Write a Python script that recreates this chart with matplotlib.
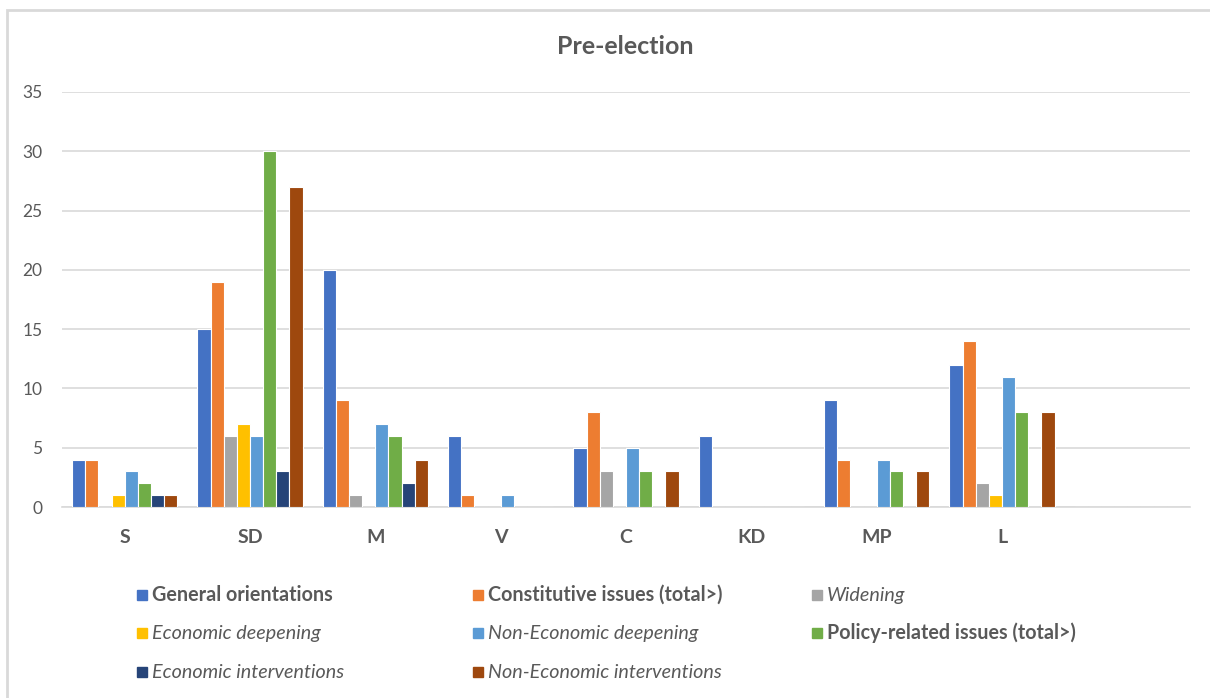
import matplotlib
matplotlib.use("Agg")
import matplotlib.pyplot as plt
from matplotlib.patches import Rectangle
import numpy as np

plt.rcParams['font.family'] = ['Lato', 'DejaVu Sans']

parties = ["S", "SD", "M", "V", "C", "KD", "MP", "L", ""]

series_names = [
    "General orientations",
    "Constitutive issues (total>)",
    "Widening",
    "Economic deepening",
    "Non-Economic deepening",
    "Policy-related issues (total>)",
    "Economic interventions",
    "Non-Economic interventions",
]
series_colors = ["#4472C4", "#ED7D31", "#A5A5A5", "#FFC000",
                 "#5B9BD5", "#70AD47", "#264478", "#9E480E"]
series_styles = ["bold", "bold", "italic", "italic",
                 "italic", "bold", "italic", "italic"]

general_orientations = [4, 15, 20, 6, 5, 6, 9, 12, 0]
constitutive_issues = [4, 19, 9, 1, 8, 0, 4, 14, 0]
widening = [0, 6, 1, 0, 3, 0, 0, 2, 0]
economic_deepening = [1, 7, 0, 0, 0, 0, 0, 1, 0]
non_economic_deepening = [3, 6, 7, 1, 5, 0, 4, 11, 0]
policy_related_issues = [2, 30, 6, 0, 3, 0, 3, 8, 0]
economic_interventions = [1, 3, 2, 0, 0, 0, 0, 0, 0]
non_economic_interventions = [1, 27, 4, 0, 3, 0, 3, 8, 0]

values = [general_orientations, constitutive_issues, widening,
          economic_deepening, non_economic_deepening, policy_related_issues,
          economic_interventions, non_economic_interventions]

W, H = 1210, 698
fig = plt.figure(figsize=(W / 100, H / 100), dpi=100)
ax = fig.add_axes([62 / W, (H - 507) / H, (1190 - 62) / W, (507 - 92) / H])

x = np.arange(len(parties))
n = len(values)
width = 0.105
for i, (vals, col) in enumerate(zip(values, series_colors)):
    offs = (i - (n - 1) / 2) * width
    ax.bar(x + offs, vals, width, color=col, edgecolor="white", linewidth=0.8,
           zorder=3)

ax.set_xlim(-0.5, len(parties) - 0.5)
ax.set_ylim(0, 35)
ax.set_yticks(range(0, 36, 5))
ax.set_xticks(x)
ax.set_xticklabels(parties, fontsize=14, fontweight="bold", color="#595959")
ax.tick_params(axis="x", length=0, pad=16)
ax.tick_params(axis="y", length=0, pad=14, labelsize=12.5, labelcolor="#595959")
ax.yaxis.grid(True, color="#d9d9d9", linewidth=1.2, zorder=0)
for side in ["top", "right", "left"]:
    ax.spines[side].set_visible(False)
ax.spines["bottom"].set_color("#d9d9d9")
ax.spines["bottom"].set_linewidth(1.2)

fig.text(625 / W, 1 - 46 / H, "Pre-election", ha="center", va="center",
         fontsize=18, fontweight="bold", color="#595959")

# Legend laid out in three columns, row by row
col_x = [137, 473, 812]
row_y = [595, 633, 672]
for k, (name, col, style) in enumerate(zip(series_names, series_colors,
                                            series_styles)):
    r, c = divmod(k, 3)
    px, py = col_x[c], row_y[r]
    fig.add_artist(Rectangle((px / W, 1 - (py + 5) / H), 10 / W, 10 / H,
                             transform=fig.transFigure, color=col))
    kw = dict(fontweight="bold") if style == "bold" else dict(fontstyle="italic")
    fig.text((px + 15) / W, 1 - py / H, name, ha="left", va="center",
             fontsize=14.2, color="#595959", **kw)

# Chart frame
fig.add_artist(Rectangle((7 / W, -0.05), 1.1, 1 - 10 / H + 0.05,
                         transform=fig.transFigure, fill=False,
                         edgecolor="#d9d9d9", linewidth=2))

fig.savefig("out.png", dpi=100)
